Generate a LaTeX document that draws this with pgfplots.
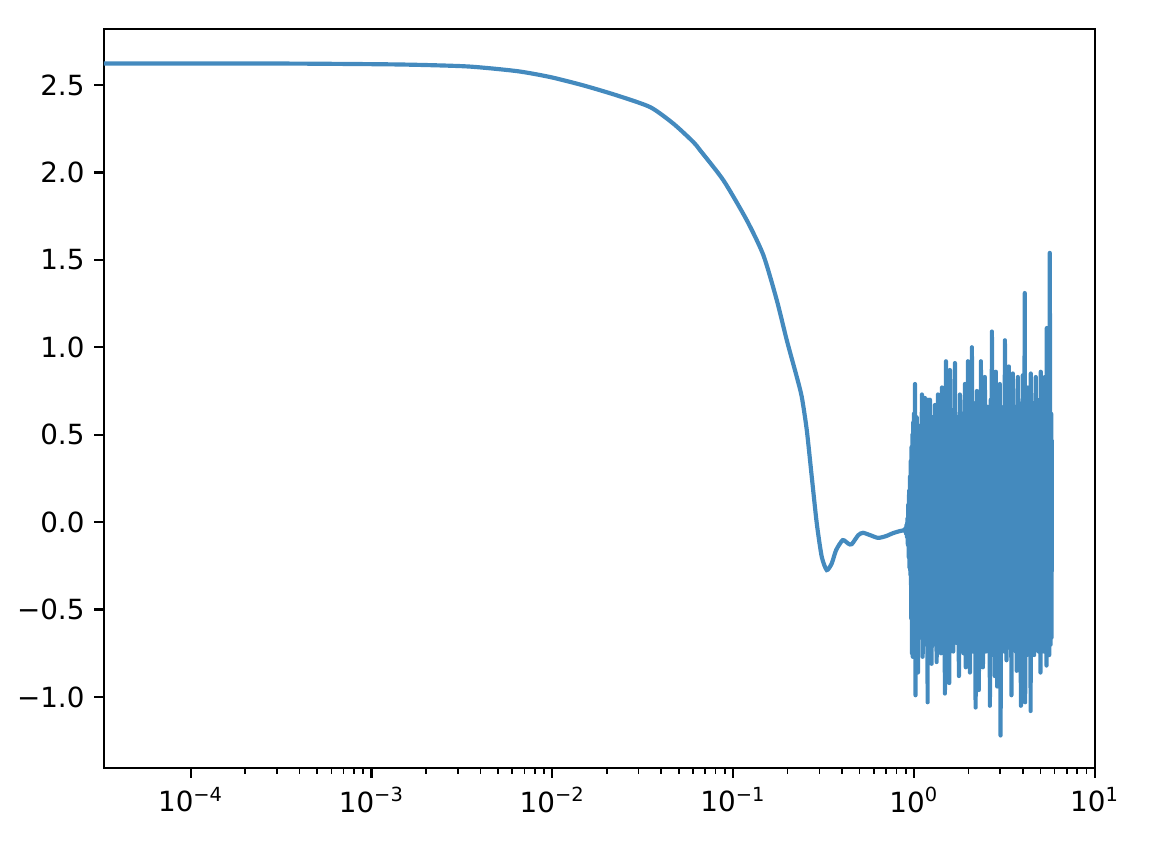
\documentclass[border=0pt]{standalone}
\usepackage{fontspec}
\setmainfont{DejaVu Sans}
\usepackage{pgfplots}
\pgfplotsset{compat=1.18}
\definecolor{lineblue}{RGB}{68,138,190}

\begin{document}
\begin{tikzpicture}
\begin{axis}[
  scale only axis,
  width=356.76pt, height=266.04pt,
  xmode=log,
  xmin=3.31e-5, xmax=10.03,
  ymin=-1.406, ymax=2.82,
  axis line style={line width=0.8pt},
  tick align=outside,
  xtick pos=bottom, ytick pos=left,
  major tick length=3.5pt,
  minor tick length=2pt,
  every major tick/.style={line width=0.8pt, black},
  every minor tick/.style={line width=0.6pt, black},
  xtick={1e-4,1e-3,1e-2,1e-1,1,10},
  xticklabels={10\textsuperscript{−4},10\textsuperscript{−3},10\textsuperscript{−2},10\textsuperscript{−1},10\textsuperscript{0},10\textsuperscript{1}},
  ytick={-1,-0.5,0,0.5,1,1.5,2,2.5},
  yticklabels={−1.0,−0.5,0.0,0.5,1.0,1.5,2.0,2.5},
  tick label style={font=\fontsize{10pt}{12pt}\selectfont},
  clip=true,
]
\coordinate (SW) at (rel axis cs:0,0);
\coordinate (NE) at (rel axis cs:1,1);
\addplot[color=lineblue, line width=1.5pt, smooth, tension=0.4] coordinates {
(3.31e-5,2.623) (1.135e-4,2.623) (4.05e-4,2.622) (1.445e-3,2.617)
(3.38e-3,2.606) (6.38e-3,2.579) (9.75e-3,2.545) (1.49e-2,2.497)
(2.28e-2,2.440) (3.48e-2,2.373) (4.68e-2,2.278) (6.03e-2,2.173)
(6.57e-2,2.126) (8.84e-2,1.954) (0.119,1.726) (0.147,1.526)
(0.1743,1.269) (0.198,1.040) (0.2249,0.830) (0.2396,0.716)
(0.2554,0.526) (0.2721,0.259) (0.290,-0.007) (0.309,-0.198)
(0.3294,-0.274) (0.351,-0.236) (0.371,-0.160) (0.4036,-0.103)
(0.4335,-0.123) (0.4527,-0.126) (0.4923,-0.074) (0.5226,-0.061)
(0.571,-0.074) (0.633,-0.090) (0.700,-0.080) (0.7655,-0.063)
(0.837,-0.051) (0.880,-0.047)
};
\addplot[color=lineblue, line width=1.5pt, line join=round] coordinates {
(0.880,-0.047) (0.890,-0.040) (0.895,-0.055) (0.900,-0.030) (0.905,-0.070)
(0.910,-0.015) (0.915,-0.085) (0.920,0.02) (0.925,-0.13) (0.930,0.10)
(0.935,-0.20) (0.940,0.18) (0.945,-0.26) (0.950,0.26) (0.955,-0.30)
(0.960,0.35) (0.965,-0.55) (0.970,0.43) (0.975,-0.75) (0.980,0.50)
(0.985,-0.77) (0.990,0.57) (0.995,-0.70) (1.000,0.62) (1.005,-0.75)
(1.013,0.79) (1.020,-0.99) (1.035,0.60) (1.052,-0.86) (1.068,0.55)
(1.085,-0.66) (1.107,0.73) (1.117,-0.77) (1.132,0.58) (1.141,-0.64)
(1.150,0.71) (1.165,-0.70) (1.180,0.62) (1.190,-1.03) (1.195,0.70)
(1.210,-0.66) (1.226,0.70) (1.252,-0.81) (1.265,0.60) (1.280,-0.70)
(1.295,0.55) (1.300,-0.68) (1.306,0.67) (1.335,-0.80) (1.345,0.62)
(1.350,-0.66) (1.357,0.73) (1.375,-0.72) (1.395,0.58) (1.410,-0.75)
(1.428,0.77) (1.445,-0.64) (1.465,0.62) (1.483,-0.98) (1.503,0.92)
(1.525,-0.70) (1.545,0.66) (1.567,-0.92) (1.581,0.87) (1.600,-0.68)
(1.625,0.64) (1.648,-0.74) (1.685,0.91) (1.710,-0.69) (1.735,0.60)
(1.773,-0.88) (1.795,0.73) (1.820,-0.70) (1.850,0.62) (1.880,-0.75)
(1.913,0.79) (1.935,-0.83) (1.960,0.66) (1.975,-0.72) (1.988,0.92)
(2.040,-0.86) (2.065,0.70) (2.080,-0.68) (2.091,1.00) (2.120,-0.74)
(2.150,0.68) (2.193,-1.06) (2.229,0.75) (2.260,-0.70) (2.275,0.64)
(2.285,-0.96) (2.315,0.66) (2.330,-0.72) (2.345,0.92) (2.375,-0.70)
(2.390,0.60) (2.406,-0.83) (2.440,0.72) (2.455,-0.66) (2.467,0.83)
(2.500,-0.74) (2.540,0.66) (2.580,-0.70) (2.610,0.64) (2.630,-1.05)
(2.660,0.70) (2.680,-0.72) (2.698,1.09) (2.740,-0.76) (2.770,0.66)
(2.800,-0.88) (2.838,0.86) (2.885,-0.94) (2.920,0.62) (2.950,-0.74)
(2.985,0.79) (3.013,-1.22) (3.060,0.64) (3.100,-0.70) (3.140,0.66)
(3.160,-0.74) (3.184,1.04) (3.250,-0.79) (3.300,0.66) (3.330,-0.70)
(3.350,0.89) (3.400,-0.72) (3.430,0.62) (3.460,-0.99) (3.524,0.85)
(3.570,-0.72) (3.620,0.66) (3.660,-0.74) (3.680,0.60) (3.700,-0.85)
(3.755,0.83) (3.800,-0.70) (3.850,0.64) (3.905,-1.05) (3.950,0.68)
(3.975,-0.72) (4.000,0.84) (4.050,-0.74) (4.100,1.31) (4.120,-1.03)
(4.180,0.68) (4.220,-0.76) (4.260,0.77) (4.320,-0.74) (4.370,0.64)
(4.420,-1.08) (4.430,0.85) (4.500,-0.72) (4.560,0.68) (4.620,-0.76)
(4.680,0.66) (4.700,-0.70) (4.720,0.83) (4.750,-0.72) (4.820,0.64)
(4.880,-0.74) (4.950,0.70) (5.010,-0.86) (5.030,0.86) (5.100,-0.72)
(5.170,0.68) (5.230,-0.74) (5.300,0.83) (5.360,-0.70) (5.390,0.70)
(5.410,-0.82) (5.430,1.11) (5.500,-0.74) (5.560,0.72) (5.600,-0.76)
(5.640,1.54) (5.700,-0.70) (5.740,0.62) (5.770,-0.66) (5.790,0.47)
};
\end{axis}
\pgfresetboundingbox
\path ([shift={(-37.44pt,-32.4pt)}]SW) rectangle ([shift={(26.28pt,10.44pt)}]NE);
\end{tikzpicture}
\end{document}
